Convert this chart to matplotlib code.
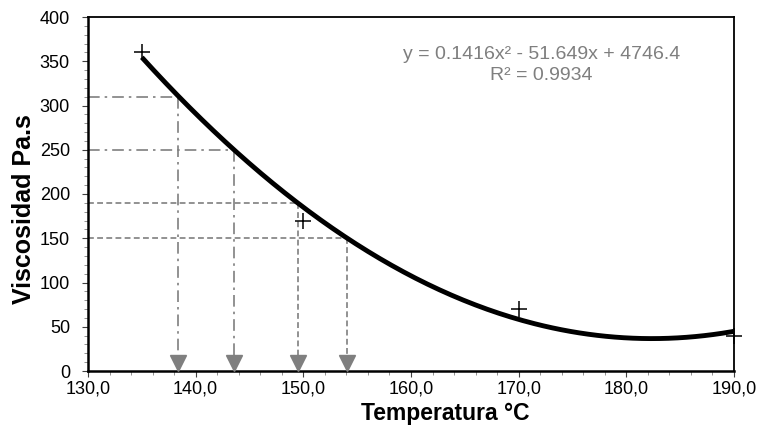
import numpy as np
import matplotlib.pyplot as plt
from matplotlib.ticker import MultipleLocator, FuncFormatter

plt.rcParams['font.family'] = ['Liberation Sans', 'DejaVu Sans']

# measured points
temp = [135, 150, 170, 190]
visc = [360, 170, 70, 40]

# excel trendline (2nd order polynomial)
coef = [0.1416, -51.649, 4746.4]
r2 = 0.9934

# read-off levels and their temperatures on the curve
levels = [310, 250, 190, 150]
level_temp = [138.4, 143.6, 149.5, 154.1]
level_style = [(0, (7, 3, 1.5, 3)), (0, (7, 3, 1.5, 3)), (0, (3.5, 2)), (0, (3.5, 2))]

grey = '#7f7f7f'

fig = plt.figure(figsize=(7.57, 4.26), dpi=100)
ax = fig.add_axes([88 / 757, 1 - 371 / 426, (734 - 88) / 757, (371 - 17) / 426])

# guide lines + arrows
for lv, t, ls in zip(levels, level_temp, level_style):
    ax.plot([130, t], [lv, lv], color=grey, lw=1.2, linestyle=ls, zorder=2)
    ax.plot([t, t], [lv, 14], color=grey, lw=1.2, linestyle=ls, zorder=2)
    ax.plot(t, 8.5, marker='v', color=grey, markersize=11, zorder=3, linestyle='none')

# trendline
xs = np.linspace(135, 190, 200)
ax.plot(xs, np.polyval(coef, xs), color='black', lw=3.5, zorder=4, solid_capstyle='butt')

# data
ax.plot(temp, visc, linestyle='none', marker='+', markersize=12, mew=1.1,
        color='black', zorder=5, clip_on=False)

ax.text(172.1, 352.5, 'y = 0.1416x² - 51.649x + 4746.4', color=grey, fontsize=14,
        ha='center', va='baseline')
ax.text(172.1, 329, f'R² = {r2}', color=grey, fontsize=14, ha='center', va='baseline')

ax.set_xlim(130, 190)
ax.set_ylim(0, 400)
ax.xaxis.set_major_locator(MultipleLocator(10))
ax.xaxis.set_minor_locator(MultipleLocator(2))
ax.yaxis.set_major_locator(MultipleLocator(50))
ax.yaxis.set_minor_locator(MultipleLocator(10))
ax.xaxis.set_major_formatter(FuncFormatter(lambda v, p: f'{v:.1f}'.replace('.', ',')))
ax.tick_params(which='major', direction='out', length=4, width=0.8, labelsize=13, color='#404040')
ax.tick_params(which='minor', direction='out', length=3, width=0.6, color='#808080')
ax.tick_params(axis='y', which='major', pad=9)
ax.tick_params(axis='x', which='major', pad=3)
for s in ax.spines.values():
    s.set_linewidth(1.3)
ax.spines['left'].set_linewidth(1.8)
ax.spines['bottom'].set_linewidth(1.8)

ax.set_xlabel('Temperatura °C', fontsize=16.5, fontweight='bold')
ax.set_ylabel('Viscosidad Pa.s', fontsize=18, fontweight='bold')
ax.xaxis.set_label_coords(0.553, -0.1384)
ax.xaxis.label.set_va('baseline')
ax.yaxis.set_label_coords(-0.099, 0.458)
ax.yaxis.label.set_va('center')

plt.savefig('out.png', dpi=100)
